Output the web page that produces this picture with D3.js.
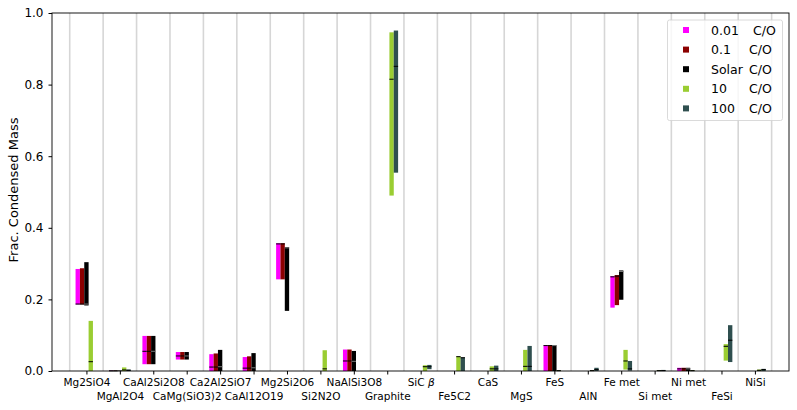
<!DOCTYPE html>
<html>
<head>
<meta charset="utf-8">
<script src="https://cdn.jsdelivr.net/npm/d3@7"></script>
<style>
  body { margin: 0; background: #fff; }
  text { font-family: "DejaVu Sans", sans-serif; fill: #000; }
</style>
</head>
<body>
<div class="chart"></div>
<script>
// species along the x axis
var categories = ["Mg2SiO4", "MgAl2O4", "CaAl2Si2O8", "CaMg(SiO3)2", "Ca2Al2SiO7", "CaAl12O19",
    "Mg2Si2O6", "Si2N2O", "NaAlSi3O8", "Graphite", "SiC β", "Fe5C2", "CaS", "MgS", "FeS",
    "AlN", "Fe met", "Si met", "Ni met", "FeSi", "NiSi"];

var seriesNames = ["0.01", "0.1", "Solar", "10", "100"];
var seriesColors = ["#ff00ff", "#8b0000", "#000000", "#9acd32", "#2f4f4f"];

// [low, high, median] per category
var co001 = [[0.186, 0.285, 0.187], [0, 0.001, 0.0005], [0.019, 0.098, 0.055], [0.032, 0.053, 0.042],
    [0, 0.047, 0.011], [0, 0.039, 0.008], [0.256, 0.357, 0.355], [0, 0, 0], [0, 0.060, 0.028],
    [0, 0, 0], [0, 0, 0], [0, 0, 0], [0, 0, 0], [0, 0, 0], [0, 0.072, 0.071], [0, 0, 0],
    [0.177, 0.265, 0.263], [0, 0, 0], [0, 0.009, 0.006], [0, 0, 0], [0, 0, 0]];
var co01 = [[0.186, 0.287, 0.187], [0, 0.001, 0.0005], [0.019, 0.098, 0.055], [0.032, 0.053, 0.042],
    [0, 0.049, 0.011], [0, 0.041, 0.008], [0.256, 0.357, 0.355], [0, 0, 0], [0, 0.060, 0.028],
    [0, 0, 0], [0, 0, 0], [0, 0, 0], [0, 0, 0], [0, 0, 0], [0, 0.072, 0.071], [0, 0, 0],
    [0.184, 0.268, 0.265], [0, 0, 0], [0, 0.009, 0.006], [0, 0, 0], [0, 0, 0]];
var coSolar = [[0.183, 0.304, 0.187], [0, 0.002, 0.001], [0.019, 0.098, 0.055], [0.032, 0.053, 0.042],
    [0, 0.059, 0.012], [0, 0.050, 0.009], [0.168, 0.346, 0.344], [0, 0, 0], [0, 0.056, 0.027],
    [0, 0, 0], [0, 0, 0], [0, 0, 0], [0, 0, 0], [0, 0, 0], [0, 0.072, 0.071], [0, 0, 0],
    [0.199, 0.281, 0.278], [0, 0, 0], [0, 0.009, 0.006], [0, 0, 0], [0, 0, 0]];
var co10 = [[0, 0.140, 0.026], [0, 0.010, 0.003], [0, 0, 0], [0, 0, 0], [0, 0, 0], [0, 0, 0],
    [0, 0, 0], [0, 0.058, 0.006], [0, 0, 0], [0.490, 0.946, 0.815], [0, 0.016, 0.012],
    [0, 0.041, 0.040], [0, 0.013, 0.006], [0, 0.059, 0.013], [0, 0.002, 0.001], [0, 0.002, 0.001],
    [0.004, 0.059, 0.028], [0, 0.002, 0.001], [0, 0.002, 0.001], [0.029, 0.075, 0.069], [0, 0.004, 0.002]];
var co100 = [[0, 0, 0], [0, 0.004, 0.002], [0, 0, 0], [0, 0, 0], [0, 0, 0], [0, 0, 0],
    [0, 0, 0], [0, 0, 0], [0, 0, 0], [0.554, 0.951, 0.851], [0.005, 0.017, 0.012],
    [0, 0.038, 0.037], [0, 0.015, 0.006], [0, 0.070, 0.013], [0, 0, 0], [0, 0.009, 0.004],
    [0.001, 0.028, 0.006], [0, 0.003, 0.001], [0, 0, 0], [0.025, 0.128, 0.086], [0, 0.006, 0.004]];
var seriesData = [co001, co01, coSolar, co10, co100];

var yTicks = [0, 0.2, 0.4, 0.6, 0.8, 1.0];

var svgWidth = 797;
var svgHeight = 410;
var barW = 0.13;

var svg = d3.select(".chart")
    .append("svg")
    .attr("width", svgWidth)
    .attr("height", svgHeight);

var x = d3.scaleLinear().domain([-1.03, 21.02]).range([52, 789]);
var y = d3.scaleLinear().domain([0, 1]).range([371, 13]);

// separators between species
svg.append("g").selectAll("line")
    .data(d3.range(categories.length + 1))
    .enter().append("line")
    .attr("x1", d => x(d - 0.5))
    .attr("x2", d => x(d - 0.5))
    .attr("y1", y(1))
    .attr("y2", y(0))
    .attr("stroke", "#d6d6d6")
    .attr("stroke-width", 1.6);

// floating bars
seriesData.forEach(function(series, s) {
    var off = (s - 2) * barW;
    var g = svg.append("g");
    var rows = series.map((v, i) => ({ i: i, lo: v[0], hi: v[1], med: v[2] }));
    g.selectAll("rect")
        .data(rows.filter(d => d.hi > d.lo))
        .enter().append("rect")
        .attr("x", d => x(d.i + off - barW / 2))
        .attr("width", d => x(barW) - x(0))
        .attr("y", d => y(d.hi))
        .attr("height", d => y(d.lo) - y(d.hi))
        .attr("fill", seriesColors[s]);
    g.selectAll("line")
        .data(rows.filter(d => d.hi > 0))
        .enter().append("line")
        .attr("x1", d => x(d.i + off - barW / 2))
        .attr("x2", d => x(d.i + off + barW / 2))
        .attr("y1", d => y(d.med))
        .attr("y2", d => y(d.med))
        .attr("stroke", s == 2 ? "#777" : "#000")
        .attr("stroke-width", 1);
});

// axes
var leftAxis = d3.axisLeft(y)
    .tickValues(yTicks)
    .tickFormat(d3.format(".1f"))
    .tickSize(3.5)
    .tickPadding(5);
var yAxis = svg.append("g")
    .attr("transform", "translate(52,0)")
    .call(leftAxis);
yAxis.select(".domain").remove();
yAxis.selectAll("text")
    .style("font-size", "12px")
    .style("font-family", "DejaVu Sans");

var bottomAxis = d3.axisBottom(x)
    .tickValues(d3.range(categories.length))
    .tickFormat(i => categories[i])
    .tickSize(3.5);
var xAxis = svg.append("g")
    .attr("transform", "translate(0,371)")
    .call(bottomAxis);
xAxis.select(".domain").remove();
xAxis.selectAll("text")
    .attr("y", (d, i) => i % 2 ? 22 : 8)
    .style("font-size", "10.5px")
    .style("font-family", "DejaVu Sans")
    .each(function(d) {
        if (categories[d] == "SiC β") {
            var t = d3.select(this).text("SiC ");
            t.append("tspan").style("font-style", "italic").text("β");
        }
    });

// frame
svg.append("rect")
    .attr("x", 52)
    .attr("y", 13)
    .attr("width", 737)
    .attr("height", 358)
    .attr("fill", "none")
    .attr("stroke", "#000")
    .attr("stroke-width", 0.9);

svg.append("text")
    .attr("transform", "rotate(-90)")
    .attr("x", -190)
    .attr("y", 17.5)
    .attr("text-anchor", "middle")
    .style("font-size", "13px")
    .text("Frac. Condensed Mass");

// legend
var legend = svg.append("g");
legend.append("rect")
    .attr("x", 667.5)
    .attr("y", 20)
    .attr("width", 115)
    .attr("height", 100.5)
    .attr("rx", 2)
    .attr("fill", "#fff")
    .attr("fill-opacity", 0.8)
    .attr("stroke", "#d0d0d0")
    .attr("stroke-width", 0.8);
var items = legend.selectAll("g.item")
    .data(seriesNames)
    .enter().append("g")
    .attr("transform", (d, i) => `translate(0, ${30 + i * 19.6})`);
items.append("rect")
    .attr("x", 683)
    .attr("y", -3)
    .attr("width", 6)
    .attr("height", 6)
    .attr("fill", (d, i) => seriesColors[i]);
items.append("text")
    .attr("x", 711)
    .attr("y", 4.5)
    .style("font-size", "12.5px")
    .text(d => d);
items.append("text")
    .attr("x", (d, i) => i == 0 ? 753 : 749)
    .attr("y", 4.5)
    .style("font-size", "12.5px")
    .text("C/O");
</script>
</body>
</html>
